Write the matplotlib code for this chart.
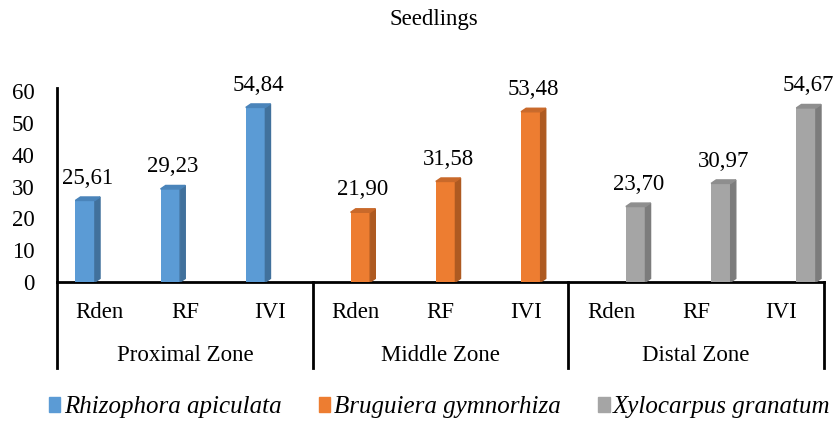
import numpy as np
import matplotlib
matplotlib.use("Agg")
import matplotlib.pyplot as plt
from matplotlib.patches import Polygon, Patch

plt.rcParams['font.family'] = ['Liberation Serif', 'DejaVu Serif']

# data
zones = ["Proximal Zone", "Middle Zone", "Distal Zone"]
params = ["Rden", "RF", "IVI"]
species = ["Rhizophora apiculata", "Bruguiera gymnorhiza", "Xylocarpus granatum"]
proximal = [25.61, 29.23, 54.84]
middle = [21.90, 31.58, 53.48]
distal = [23.70, 30.97, 54.67]
values = [proximal, middle, distal]

front_cols = ['#5B9BD5', '#ED7D31', '#A5A5A5']
side_cols = ['#41719C', '#AE5A21', '#7C7C7C']
top_cols = ['#4A84BA', '#C9692A', '#8E8E8E']

fs = 16.5

fig = plt.figure(figsize=(8.33, 4.23), dpi=100)
ax = fig.add_axes([57/833, 1 - 282/423, (824 - 57)/833, (282 - 91)/423])

w = 0.23       # bar width (one series slot)
dx = 0.06      # 3d depth horizontal
dy = 1.1       # 3d depth vertical (data units)

for z in range(3):
    for p in range(3):
        slot = z*3 + p
        x0 = slot + (z - 1)*w - w/2 + 0.06
        v = values[z][p]
        ax.bar(x0, v, width=w, align='edge', color=front_cols[z], zorder=3)
        side = Polygon([[x0 + w, 0], [x0 + w + dx, dy], [x0 + w + dx, v + dy], [x0 + w, v]],
                       closed=True, color=side_cols[z], zorder=3)
        top = Polygon([[x0, v], [x0 + dx, v + dy], [x0 + w + dx, v + dy], [x0 + w, v]],
                      closed=True, color=top_cols[z], zorder=3)
        ax.add_patch(side)
        ax.add_patch(top)
        ax.annotate(f"{v:.2f}".replace('.', ','), (x0 + w/2 + dx/2, v + dy),
                    xytext=(0, 6), textcoords='offset points',
                    ha='center', va='bottom', fontsize=fs)

ax.set_xlim(-0.5, 8.5)
ax.set_ylim(0, 60)
ax.set_yticks(range(0, 61, 10))
ax.tick_params(axis='y', length=0, pad=16, labelsize=fs)
ax.set_xticks([])
for s in ['top', 'right']:
    ax.spines[s].set_visible(False)
ax.spines['left'].set_linewidth(2)
ax.spines['bottom'].set_linewidth(2)
ax.spines['left'].set_bounds(0, 61)

trans = ax.get_xaxis_transform()
for z in range(3):
    for p in range(3):
        ax.text(z*3 + p, -0.16, params[p], transform=trans, ha='center', va='center', fontsize=fs)
    ax.text(z*3 + 1, -0.385, zones[z], transform=trans, ha='center', va='center', fontsize=fs)
for b in [-0.5, 2.5, 5.5, 8.5]:
    ax.plot([b, b], [0, -0.45], transform=trans, color='black', lw=2, clip_on=False)

fig.text(0.521, 1 - 20/423, "Seedlings", ha='center', va='center', fontsize=fs)

handles = [Patch(color=c) for c in front_cols]
leg = fig.legend(handles, species, loc='center', bbox_to_anchor=(0.528, 1 - 407/423), ncol=3,
                 frameon=False, prop={'style': 'italic', 'size': 18},
                 handlelength=0.45, handleheight=0.55, handletextpad=0.15, columnspacing=1.5)

fig.savefig("out.png", dpi=100)
